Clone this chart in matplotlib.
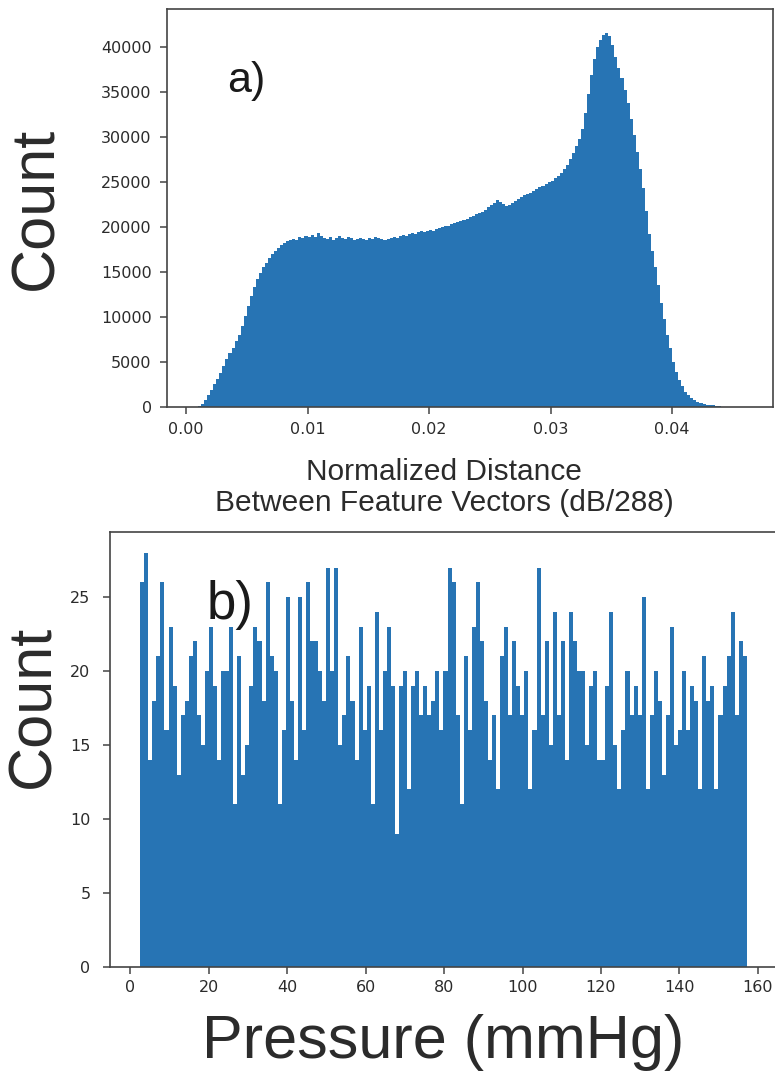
import matplotlib
matplotlib.use("Agg")
import matplotlib.pyplot as plt
import numpy as np

# ---- panel a: normalized distance histogram (counts per bin)
dist_lo, dist_hi = 0.00075, 0.04575
dist_counts = [
    20, 80, 300, 800, 1300, 1900, 2500, 3100, 3800, 4500,
    5300, 6000, 6600, 7300, 8000, 9000, 10100, 11200, 12300, 13300,
    14200, 14900, 15500, 16000, 16500, 17000, 17300, 17700, 18000, 18200,
    18400, 18500, 18700, 18600, 18900, 18800, 19000, 18900, 19100, 18900,
    19300, 19000, 18800, 18700, 18900, 18600, 18800, 19000, 18800, 18700,
    18900, 18800, 18600, 18700, 18800, 18700, 18600, 18800, 18700, 18900,
    18800, 18700, 18600, 18700, 18800, 18900, 18800, 19000, 19100, 19000,
    19200, 19300, 19200, 19400, 19500, 19400, 19600, 19700, 19600, 19800,
    19900, 20000, 20100, 20100, 20300, 20400, 20500, 20700, 20800, 20900,
    21100, 21200, 21400, 21600, 21700, 21900, 22200, 22400, 22700, 23000,
    22800, 22500, 22300, 22400, 22700, 22900, 23100, 23300, 23500, 23600,
    23800, 24000, 24200, 24400, 24500, 24800, 25000, 25100, 25400, 25700,
    26000, 26400, 26900, 27500, 28200, 29000, 29800, 30900, 32700, 34800,
    36900, 38700, 40000, 40800, 41300, 41500, 41200, 40200, 38900, 37700,
    36500, 35200, 33800, 32000, 30200, 28300, 26400, 24300, 21800, 19200,
    17300, 15500, 13500, 11600, 9800, 8000, 6500, 5000, 3900, 3000,
    2300, 1700, 1300, 1000, 750, 550, 420, 320, 250, 200,
    180, 150, 100, 40, 15, 5, 0, 0, 0, 0,
]
dist_yticks = [0, 5000, 10000, 15000, 20000, 25000, 30000, 35000, 40000]
dist_xticks = [0.00, 0.01, 0.02, 0.03, 0.04]

# ---- panel b: pressure histogram, 150 bins
press_lo, press_hi = 2.5, 157.2
press_counts = [
    26, 28, 14, 18, 21, 26, 16, 23, 19, 13,
    17, 18, 21, 22, 17, 15, 20, 23, 19, 14, 20, 20,
    23, 11, 21, 13, 15, 19, 23, 22, 18, 26, 21, 20, 11, 16,
    25, 18, 14, 25, 16, 26, 22, 22, 20, 18, 27, 20, 27, 15,
    17, 21, 18, 14, 23, 16, 19, 11, 24, 16, 20, 23, 19, 9,
    19, 20, 12, 19, 20, 17, 19, 17, 18, 20,
    16, 20, 27, 26, 17, 11, 21, 16, 23, 26, 22, 18, 14, 17, 12, 21, 23, 17, 22, 19,
    17, 20, 12, 16, 27, 17, 22, 15, 24, 17, 22, 14, 24, 22, 20, 20, 15, 19,
    20, 14, 14, 19, 24, 15, 12, 16, 20, 17, 19, 17, 25, 12, 17, 20, 18, 13, 17, 23,
    15, 16, 20, 16, 19, 18, 12, 21, 18, 19, 12, 17, 19, 21, 24, 17, 22, 21,
]
press_yticks = [0, 5, 10, 15, 20, 25]
press_xticks = [0, 20, 40, 60, 80, 100, 120, 140, 160]

BAR = "#2774b4"
TXT = "#2b2b2b"
BIG = "Liberation Sans"

fig = plt.figure(figsize=(7.75, 10.73), dpi=100)
fig.patch.set_facecolor("white")


def style_axes(ax, pad_x, pad_y):
    for spine in ax.spines.values():
        spine.set_color("#444444")
        spine.set_linewidth(1.2)
    ax.tick_params(axis="both", colors="#444444", labelcolor=TXT,
                   labelsize=11.5, length=5, width=1.1)
    ax.tick_params(axis="x", pad=pad_x)
    ax.tick_params(axis="y", pad=pad_y)


# panel a
ax_a = fig.add_axes([167 / 775, 1 - 407 / 1073, 606 / 775, 398 / 1073])
edges_a = np.linspace(dist_lo, dist_hi, len(dist_counts) + 1)
ax_a.hist(edges_a[:-1], bins=edges_a, weights=dist_counts,
          histtype="stepfilled", color=BAR, linewidth=0)
ax_a.set_xlim(-0.00156, 0.0483)
ax_a.set_ylim(0, 44200)
ax_a.set_yticks(dist_yticks)
ax_a.set_xticks(dist_xticks)
ax_a.set_xticklabels([f"{v:.2f}" for v in dist_xticks])
style_axes(ax_a, 6, 6)
ax_a.set_ylabel("Count", fontsize=44, family=BIG, color=TXT)
ax_a.yaxis.set_label_coords(-0.168, 0.5)
ax_a.set_xlabel("Normalized Distance\nBetween Feature Vectors (dB/288)",
                fontsize=21.5, family=BIG, color=TXT, linespacing=1.15)
ax_a.xaxis.set_label_coords((444 - 167) / 606, -0.128)
ax_a.xaxis.label.set_verticalalignment("top")
ax_a.text(0.1, 0.82, "a)", transform=ax_a.transAxes, fontsize=31,
          family=BIG, color="#1a1a1a", ha="left", va="center")

# panel b
ax_b = fig.add_axes([110 / 775, 1 - 967 / 1073, 667 / 775, 435 / 1073])
edges_b = np.linspace(press_lo, press_hi, len(press_counts) + 1)
ax_b.hist(edges_b[:-1], bins=edges_b, weights=press_counts,
          histtype="stepfilled", color=BAR, linewidth=0)
ax_b.set_xlim(-5.2, 164.9)
ax_b.set_ylim(0, 29.4)
ax_b.set_yticks(press_yticks)
ax_b.set_xticks(press_xticks)
style_axes(ax_b, 4, 9)
ax_b.set_ylabel("Count", fontsize=44, family=BIG, color=TXT)
ax_b.yaxis.set_label_coords(-0.072, 0.6)
ax_b.set_xlabel("Pressure (mmHg)", fontsize=44, family=BIG, color=TXT, labelpad=14)
ax_b.text(0.145, 0.832, "b)", transform=ax_b.transAxes, fontsize=38,
          family=BIG, color="#1a1a1a", ha="left", va="center")

fig.savefig("out.png", dpi=100, facecolor="white")
